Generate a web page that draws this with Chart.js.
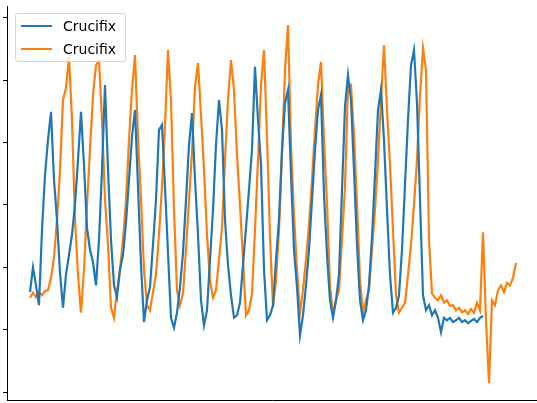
<!DOCTYPE html>
<html>
<head>
<meta charset="utf-8">
<script src="https://cdn.jsdelivr.net/npm/chart.js@4"></script>
<style>
    body { margin: 0; background: #fff; }
    #wrap { position: relative; width: 537px; height: 403px; overflow: hidden; }
    #legend {
        position: absolute; left: 15px; top: 13px; width: 109px; height: 47px;
        margin: 0; padding: 0; list-style: none;
        border: 1px solid #d4d4d4; border-radius: 3px;
        background: rgba(255, 255, 255, 0.8);
        font-family: "DejaVu Sans", sans-serif; font-size: 14px; color: #000;
    }
    #legend li { position: absolute; left: 0; height: 20px; line-height: 20px; white-space: nowrap; }
    #legend li span { position: absolute; left: 5px; top: 9px; width: 31px; height: 2px; }
    #legend li b { position: absolute; left: 47px; top: 0; font-weight: normal; }
</style>
</head>
<body>
<div id="wrap">
    <canvas id="chart1" width="537" height="403"></canvas>
    <ul id="legend"></ul>
</div>
<script>
const seriesLabels = ['Crucifix', 'Crucifix'];
const seriesColors = ['#1f77b4', '#ff7f0e'];
const frameStep = 6;
const yTicks = [0, 1, 2, 3, 4, 5, 6];

// one value every 6 frames
const blueVals = [
    1.60, 2.00, 1.71, 1.39, 2.60, 3.48, 4.04, 4.49, 3.40, 2.76,
    1.91, 1.35, 1.88, 2.20, 2.52, 3.00, 3.72, 4.49, 3.64, 2.63,
    2.28, 2.08, 1.71, 2.44, 3.56, 4.92, 3.56, 2.44, 1.71, 1.52,
    1.96, 2.20, 2.72, 3.40, 4.09, 4.52, 3.29, 2.04, 1.12, 1.47,
    1.68, 2.36, 3.08, 4.20, 4.28, 3.29, 2.23, 1.19, 1.03, 1.27,
    1.68, 2.23, 3.08, 3.96, 4.47, 3.40, 2.52, 1.47, 1.07, 1.31,
    2.12, 2.92, 3.96, 4.68, 4.20, 2.76, 2.04, 1.55, 1.19, 1.23,
    1.43, 2.04, 2.63, 3.24, 3.88, 5.21, 4.36, 3.64, 1.96, 1.15,
    1.23, 1.39, 2.12, 2.76, 3.88, 4.63, 4.84, 3.48, 2.28, 1.68,
    0.91, 1.23, 1.71, 2.28, 3.08, 3.88, 4.52, 4.76, 3.16, 2.20,
    1.47, 1.19, 1.47, 1.88, 3.24, 4.57, 5.08, 4.68, 3.56, 2.36,
    1.47, 1.15, 1.31, 1.71, 2.48, 3.48, 4.52, 4.84, 4.04, 2.92,
    1.88, 1.27, 1.35, 1.55, 2.28, 3.32, 4.36, 5.24, 5.48, 4.63,
    3.08, 1.55, 1.31, 1.39, 1.23, 1.31, 1.19, 0.96, 1.19, 1.15,
    1.19, 1.12, 1.15, 1.19, 1.12, 1.15, 1.10, 1.14, 1.17, 1.12,
    1.19, 1.22
];

const orangeVals = [
    1.51, 1.59, 1.52, 1.60, 1.55, 1.62, 1.63, 1.83, 2.15, 2.76,
    3.56, 4.68, 4.87, 5.37, 4.36, 2.76, 1.88, 1.27, 1.96, 3.00,
    3.88, 4.76, 5.24, 5.32, 4.36, 3.08, 2.36, 1.35, 1.19, 1.63,
    1.96, 2.44, 3.08, 4.04, 4.84, 5.40, 4.09, 3.08, 1.96, 1.39,
    1.31, 1.60, 1.88, 2.52, 3.29, 4.28, 5.48, 4.68, 2.92, 1.63,
    1.39, 1.58, 2.28, 3.08, 3.83, 4.89, 5.27, 4.44, 3.56, 2.52,
    1.79, 1.51, 1.63, 2.12, 2.64, 3.72, 4.68, 5.32, 4.84, 3.80,
    3.00, 2.12, 1.23, 1.31, 1.58, 2.60, 3.72, 4.92, 5.48, 4.09,
    2.48, 1.36, 1.79, 2.60, 3.83, 5.16, 5.88, 3.96, 2.84, 1.96,
    1.27, 1.63, 2.12, 2.68, 3.40, 4.20, 4.92, 5.29, 4.04, 3.03,
    1.68, 1.27, 1.47, 1.63, 2.44, 3.29, 4.89, 4.92, 4.12, 3.03,
    1.79, 1.27, 1.47, 1.63, 2.28, 2.92, 3.72, 4.68, 5.56, 4.52,
    3.64, 2.60, 1.55, 1.27, 1.35, 1.43, 1.88, 2.36, 3.00, 3.72,
    4.76, 5.51, 5.16, 2.44, 1.58, 1.51, 1.47, 1.55, 1.43, 1.47,
    1.38, 1.39, 1.31, 1.35, 1.28, 1.31, 1.25, 1.33, 1.27, 1.43,
    1.31, 2.56, 1.15, 0.14, 1.47, 1.39, 1.63, 1.71, 1.60, 1.75,
    1.71, 1.83, 2.07
];

function toPoints(vals) {
    return vals.map((v, i) => ({ x: i * frameStep, y: v }));
}

function populateLegend(legendEl, labels, colors) {
    legendEl.innerHTML = labels.map((label, i) => `
        <li style="top: ${2 + i * 23}px">
            <span style="background-color: ${colors[i]}"></span>
            <b>${label}</b>
        </li>
    `).join('');
}

const ctx1 = document.getElementById('chart1').getContext('2d');
new Chart(ctx1, {
    type: 'line',
    data: {
        datasets: [blueVals, orangeVals].map((vals, i) => ({
            label: seriesLabels[i],
            data: toPoints(vals),
            borderColor: seriesColors[i],
            borderWidth: 2.2,
            pointRadius: 0,
            tension: 0,
            fill: false
        }))
    },
    options: {
        responsive: false,
        animation: false,
        layout: { padding: { left: 3, top: 6, right: 0, bottom: 3 } },
        plugins: { legend: { display: false }, tooltip: { enabled: false } },
        scales: {
            x: {
                type: 'linear',
                min: -46,
                max: 1014,
                afterBuildTicks: (scale) => { scale.ticks = []; },
                grid: { display: false, drawTicks: false },
                ticks: { display: false },
                border: { color: '#000', width: 1 }
            },
            y: {
                min: -0.128,
                max: 6.186,
                afterBuildTicks: (scale) => { scale.ticks = yTicks.map(v => ({ value: v })); },
                grid: { drawOnChartArea: false, drawTicks: true, tickLength: 4, color: '#000' },
                ticks: { display: false },
                border: { color: '#000', width: 1 }
            }
        }
    }
});

populateLegend(document.getElementById('legend'), seriesLabels, seriesColors);
</script>
</body>
</html>
